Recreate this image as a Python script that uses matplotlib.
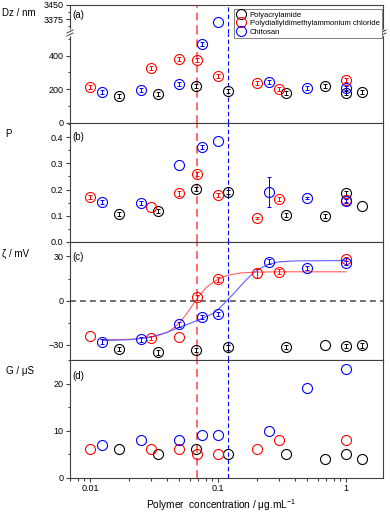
import numpy as np
import matplotlib
matplotlib.use("Agg")
import matplotlib.pyplot as plt
from matplotlib.ticker import LogLocator, NullFormatter, FixedLocator, FormatStrFormatter
from matplotlib.lines import Line2D

plt.rcParams['font.family'] = ['Liberation Sans', 'DejaVu Sans']
plt.rcParams['mathtext.fontset'] = 'custom'
plt.rcParams['mathtext.rm'] = 'Liberation Sans'
plt.rcParams['mathtext.it'] = 'Liberation Sans:italic'

# ---------------- data ----------------
series_names = ["Polyacrylamide", "Polydiallyldimethylammonium chloride", "Chitosan"]
series_colors = ["black", "#ff0000", "#0000ff"]

x_pam = [0.017, 0.034, 0.067, 0.12, 0.34, 0.68, 1.0, 1.34]
x_pdadmac = [0.01, 0.03, 0.05, 0.068, 0.1, 0.2, 0.3, 1.0]
x_chi = [0.0125, 0.025, 0.05, 0.075, 0.1, 0.25, 0.5, 1.0]

dz_pam = [158, 170, 219, 190, 176, 219, 180, 184]
dz_pdadmac = [212, 326, 378, 376, 279, 239, 203, 255]
dz_chi = [186, 194, 233, 468, 3362, 243, 209, 206]
dz_err_pam = [12, 12, 12, 12, 12, 12, 12, 12]
dz_err_pdadmac = [12, 12, 12, 12, 12, 12, 12, 12]
dz_err_chi = [12, 12, 12, 12, 0, 12, 12, 12]

p_pam = [0.106, 0.118, 0.201, 0.192, 0.101, 0.100, 0.188, 0.138]
p_pdadmac = [0.170, 0.134, 0.185, 0.259, 0.179, 0.092, 0.164, 0.160]
p_chi = [0.151, 0.149, 0.294, 0.362, 0.387, 0.190, 0.169, 0.155]
p_err_pam = [0.008, 0.008, 0.008, 0.008, 0.008, 0.008, 0.008, 0.0]
p_err_pdadmac = [0.008, 0.0, 0.008, 0.008, 0.008, 0.004, 0.008, 0.008]
p_err_chi = [0.008, 0.008, 0.0, 0.008, 0.0, 0.057, 0.004, 0.008]

zeta_pam = [-32.8, -35.0, -33.5, -31.7, -31.2, -30.1, -30.8, -30.3]
zeta_pdadmac = [-24.0, -25.1, -24.4, 2.3, 14.5, 18.6, 19.7, 28.3]
zeta_chi = [-27.8, -26.2, -16.0, -10.9, -9.0, 26.5, 22.0, 25.4]
zeta_err_pam = [1.5, 1.5, 1.5, 1.5, 1.5, 0.0, 1.5, 1.5]
zeta_err_pdadmac = [0.0, 1.5, 0.0, 1.5, 1.5, 3.0, 1.5, 1.5]
zeta_err_chi = [1.5, 1.5, 1.5, 1.5, 1.5, 1.5, 1.5, 1.5]

g_pam = [6, 5, 6, 5, 5, 4, 5, 4]
g_pdadmac = [6, 6, 6, 5, 5, 6, 8, 8]
g_chi = [7, 8, 8, 9, 9, 10, 19, 23]

# fitted sigmoid curves in panel (c)
fit_x_pdadmac = [0.0125, 0.02, 0.025, 0.03, 0.035, 0.04, 0.045, 0.05, 0.055, 0.06,
                 0.065, 0.07, 0.075, 0.08, 0.09, 0.1, 0.12, 0.15, 0.2, 0.3, 1.0]
fit_y_pdadmac = [-26.5, -26.2, -25.6, -24.8, -23.3, -21.5, -18.5, -15.0, -10.5, -6.0,
                 -1.5, 2.5, 5.5, 8.5, 12.0, 14.5, 17.3, 18.8, 19.4, 19.6, 19.6]
fit_x_chi = [0.0125, 0.02, 0.025, 0.03, 0.04, 0.05, 0.06, 0.075, 0.09, 0.1, 0.11,
             0.117, 0.135, 0.15, 0.17, 0.19, 0.22, 0.25, 0.3, 0.4, 1.0]
fit_y_chi = [-27.0, -26.5, -25.6, -24.5, -21.5, -18.0, -15.5, -12.0, -9.0, -6.0, -2.5,
             0.0, 5.5, 10.0, 15.0, 19.0, 22.5, 24.8, 26.3, 27.0, 27.2]

iep_pdadmac = 0.069
iep_chi = 0.12

# ---------------- layout ----------------
W, H = 390, 513
fig = plt.figure(figsize=(W / 100, H / 100), dpi=100)
L, R = 70, 383
SPINE = "#404040"


def ax_px(top, bottom):
    return fig.add_axes([L / W, 1 - bottom / H, (R - L) / W, (bottom - top) / H])


a_up = ax_px(5, 33)
a_lo = ax_px(33, 123)
ax_b = ax_px(123, 241.7)
ax_c = ax_px(241.7, 360)
ax_d = ax_px(360, 477.7)
all_axes = [a_up, a_lo, ax_b, ax_c, ax_d]

for ax in all_axes:
    ax.set_xscale('log')
    ax.set_xlim(0.00698, 1.945)
    ax.xaxis.set_major_locator(LogLocator(base=10, numticks=10))
    ax.xaxis.set_minor_locator(LogLocator(base=10, subs=np.arange(2, 10), numticks=30))
    ax.xaxis.set_minor_formatter(NullFormatter())
    ax.tick_params(which='both', direction='out', top=False, right=False,
                   color=SPINE, width=0.8, labelsize=6.5, pad=1.5)
    ax.tick_params(which='major', length=3.2)
    ax.tick_params(which='minor', length=1.8)
    for s in ax.spines.values():
        s.set_color(SPINE)
        s.set_linewidth(0.8)
    if ax is not ax_d:
        ax.tick_params(axis='x', which='both', labelbottom=False)
    ax.axvline(iep_pdadmac, color='#ff6b6b', lw=1.4, ls=(0, (4, 2.5)), zorder=1)
    ax.axvline(iep_chi, color='#0000ff', lw=0.8, ls=(0, (4, 2.5)), zorder=1)

ax_d.set_xticks([0.01, 0.1, 1])
ax_d.set_xticklabels(["0.01", "0.1", "1"])

# panel (a) broken axis
a_up.spines['bottom'].set_visible(False)
a_up.tick_params(axis='x', which='both', bottom=False)
a_lo.spines['top'].set_visible(False)
a_up.set_ylim(3303, 3450)
a_lo.set_ylim(0, 534)
a_up.yaxis.set_major_locator(FixedLocator([3375, 3450]))
a_up.yaxis.set_minor_locator(FixedLocator([3337.5, 3412.5]))
a_lo.yaxis.set_major_locator(FixedLocator([0, 200, 400]))
a_lo.yaxis.set_minor_locator(FixedLocator([100, 300, 500]))

ax_b.set_ylim(0, 0.455)
ax_b.yaxis.set_major_locator(FixedLocator([0.0, 0.1, 0.2, 0.3, 0.4]))
ax_b.yaxis.set_minor_locator(FixedLocator([0.05, 0.15, 0.25, 0.35, 0.45]))
ax_b.yaxis.set_major_formatter(FormatStrFormatter('%.1f'))

ax_c.set_ylim(-40.2, 40)
ax_c.yaxis.set_major_locator(FixedLocator([-30, 0, 30]))
ax_c.yaxis.set_minor_locator(FixedLocator([-15, 15]))

ax_d.set_ylim(0, 25)
ax_d.yaxis.set_major_locator(FixedLocator([0, 10, 20]))
ax_d.yaxis.set_minor_locator(FixedLocator([5, 15, 25]))

mk = dict(marker='o', ms=7.2, mfc='none', mew=0.8, ls='none', zorder=3)
eb = dict(fmt='none', elinewidth=0.7, capsize=1.6, capthick=0.7, zorder=3)

xs = [x_pam, x_pdadmac, x_chi]


def plot_panel(ax, ys, errs=None):
    for i, (x, y, c) in enumerate(zip(xs, ys, series_colors)):
        ax.plot(x, y, color=c, **mk)
        if errs is not None:
            e = np.array(errs[i])
            m = e > 0
            ax.errorbar(np.array(x)[m], np.array(y)[m], yerr=e[m], ecolor=c, **eb)


for ax in (a_up, a_lo):
    plot_panel(ax, [dz_pam, dz_pdadmac, dz_chi], [dz_err_pam, dz_err_pdadmac, dz_err_chi])
plot_panel(ax_b, [p_pam, p_pdadmac, p_chi], [p_err_pam, p_err_pdadmac, p_err_chi])
ax_c.axhline(0, color='#555555', lw=1.2, ls=(0, (3.5, 2.5)), zorder=1)
ax_c.plot(fit_x_pdadmac, fit_y_pdadmac, color='#ff6060', lw=0.8, zorder=2)
ax_c.plot(fit_x_chi, fit_y_chi, color='#6060ff', lw=0.8, zorder=2)
plot_panel(ax_c, [zeta_pam, zeta_pdadmac, zeta_chi], [zeta_err_pam, zeta_err_pdadmac, zeta_err_chi])
plot_panel(ax_d, [g_pam, g_pdadmac, g_chi])


# break marks
def px_line(xp, yp, **kw):
    fig.add_artist(Line2D([v / W for v in xp], [1 - v / H for v in yp],
                          transform=fig.transFigure, **kw))


for xb in (L, R):
    px_line([xb - 0.5, xb + 0.5], [31.5, 34.5], color='white', lw=2.5)
    for yb in (31.5, 34.5):
        px_line([xb - 3, xb + 3], [yb + 1.5, yb - 1.5], color=SPINE, lw=0.7)


def ftext(xp, yp, s, **kw):
    fig.text(xp / W, 1 - yp / H, s, **kw)


# axis labels
ftext(2.5, 12.7, "Dz / nm", fontsize=7, va='center', ha='left')
ftext(5, 133.5, "P", fontsize=7, va='center', ha='left')
ftext(2.5, 254, "ζ / mV", fontsize=7, va='center', ha='left')
ftext(5.5, 370.7, "G / μS", fontsize=7, va='center', ha='left')
ftext(221, 505, r"Polymer  concentration / μg.mL$^{-1}$", fontsize=7.3, va='center', ha='center')

# panel labels
for yp, lab in [(15, "(a)"), (136.7, "(b)"), (257.3, "(c)"), (376, "(d)")]:
    ftext(72.5, yp, lab, fontsize=7, va='center', ha='left')

# legend
handles = [Line2D([], [], color=c, marker='o', ms=7.2, mfc='none', mew=0.8, ls='none')
           for c in series_colors]
leg = fig.legend(handles, series_names, loc='upper right',
                 bbox_to_anchor=(382 / W, 1 - 9 / H), fontsize=5.5, frameon=True,
                 fancybox=False, framealpha=1, edgecolor='#808080',
                 handlelength=1.2, handletextpad=0.6, labelspacing=0.15,
                 borderpad=0.3, borderaxespad=0.0)
leg.get_frame().set_linewidth(0.7)

fig.savefig("out.png", dpi=100)
